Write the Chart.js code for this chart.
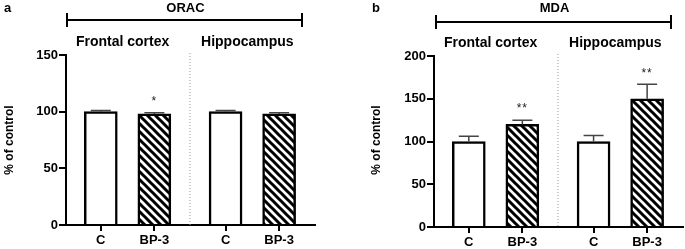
<!DOCTYPE html>
<html>
<head>
<meta charset="utf-8">
<script src="https://cdn.jsdelivr.net/npm/chart.js@4.4.1/dist/chart.umd.min.js"></script>
<style>
  body { margin: 0; background: #fff; }
  #wrap { position: relative; width: 685px; height: 249px; }
  canvas { position: absolute; top: 0; }
</style>
</head>
<body>
<div id="wrap">
  <canvas id="orac" width="340" height="249" style="left:0"></canvas>
  <canvas id="mda" width="345" height="249" style="left:340px"></canvas>
</div>
<script>
// data
const xLabels = ['C', 'BP-3', 'C', 'BP-3'];
const xPos = [1, 2, 3.33, 4.33];
const groups = ['Frontal cortex', 'Hippocampus'];

const oracMean = [100, 98, 100, 98];
const oracErr = [1, 1, 1, 1];
const oracStars = ['', '*', '', ''];

const mdaMean = [100, 120, 100, 150];
const mdaErr = [6, 5, 7, 17];
const mdaStars = ['', '**', '', '**'];

const FONT = "'Liberation Sans', Arial, sans-serif";

function makeHatch() {
  const s = 8;
  const c = document.createElement('canvas');
  c.width = s; c.height = s;
  const g = c.getContext('2d');
  g.fillStyle = '#fff';
  g.fillRect(0, 0, s, s);
  g.strokeStyle = '#000';
  g.lineWidth = 3;
  g.beginPath();
  g.moveTo(-s, -s); g.lineTo(2 * s, 2 * s);
  g.moveTo(-s, 0); g.lineTo(s, 2 * s);
  g.moveTo(0, -s); g.lineTo(2 * s, s);
  g.stroke();
  return g.createPattern(c, 'repeat');
}

function panel(id, o) {
  const ctx = document.getElementById(id).getContext('2d');
  const hatch = makeHatch();

  const extras = {
    id: 'extras',
    afterDatasetsDraw(chart) {
      const c = chart.ctx;
      const ys = chart.scales.y;
      const meta = chart.getDatasetMeta(0);
      c.save();
      c.strokeStyle = '#444';
      c.fillStyle = '#222';
      c.lineWidth = 1.5;
      meta.data.forEach((bar, i) => {
        const top = ys.getPixelForValue(o.mean[i] + o.err[i]);
        const y0 = ys.getPixelForValue(o.mean[i]);
        c.beginPath();
        c.moveTo(bar.x, y0);
        c.lineTo(bar.x, top);
        c.moveTo(bar.x - 10, top);
        c.lineTo(bar.x + 10, top);
        c.stroke();
        if (o.stars[i]) {
          c.font = '12px ' + FONT;
          c.letterSpacing = '1px';
          c.textAlign = 'center';
          c.textBaseline = 'middle';
          c.fillText(o.stars[i], bar.x, top - 11);
        }
      });
      c.restore();
    },
    afterDraw(chart) {
      const c = chart.ctx;
      const a = chart.chartArea;
      const xs = chart.scales.x;
      c.save();
      // divider between the two regions
      const xd = xs.getPixelForValue((xPos[1] + xPos[2]) / 2);
      c.strokeStyle = '#999';
      c.lineWidth = 1;
      c.setLineDash([1, 2]);
      c.beginPath();
      c.moveTo(xd, o.divTop);
      c.lineTo(xd, a.bottom);
      c.stroke();
      c.setLineDash([]);
      // panel letter
      c.fillStyle = '#000';
      c.font = 'bold 13px ' + FONT;
      c.textAlign = 'left';
      c.textBaseline = 'middle';
      c.fillText(o.letter, o.letterX, 8);
      // bracket and title
      c.strokeStyle = '#000';
      c.lineWidth = 2;
      c.beginPath();
      c.moveTo(o.br[0], o.brY); c.lineTo(o.br[1], o.brY);
      c.moveTo(o.br[0], o.brY - 7); c.lineTo(o.br[0], o.brY + 7);
      c.moveTo(o.br[1], o.brY - 7); c.lineTo(o.br[1], o.brY + 7);
      c.stroke();
      c.textAlign = 'center';
      c.font = 'bold 13px ' + FONT;
      c.fillText(o.title, (o.br[0] + o.br[1]) / 2 + 1, 8);
      // region headings
      c.font = 'bold 14px ' + FONT;
      groups.forEach((g, k) => {
        const xc = xs.getPixelForValue((xPos[2 * k] + xPos[2 * k + 1]) / 2) - 5;
        c.fillText(g, xc, o.headY);
      });
      // y axis title
      c.font = 'bold 12px ' + FONT;
      c.translate(o.yTitleX, 140);
      c.rotate(-Math.PI / 2);
      c.fillText('% of control', 0, 0);
      c.restore();
    }
  };

  return new Chart(ctx, {
    type: 'bar',
    data: {
      datasets: [{
        data: xPos.map((x, i) => ({ x: x, y: o.mean[i] })),
        backgroundColor: xPos.map((x, i) => i % 2 ? hatch : '#fff'),
        borderColor: '#000',
        borderWidth: 2.5,
        barThickness: 33
      }]
    },
    options: {
      responsive: false,
      animation: false,
      layout: { padding: { top: o.padTop, left: 0, right: o.padRight, bottom: 0 } },
      plugins: { legend: { display: false }, tooltip: { enabled: false } },
      scales: {
        x: {
          type: 'linear',
          offset: false,
          min: 0.35,
          max: 5.0,
          afterBuildTicks: s => { s.ticks = xPos.map(v => ({ value: v })); },
          afterFit: s => { s.height = o.xH; },
          ticks: {
            callback: (v, i) => xLabels[i],
            color: '#000',
            font: { family: FONT, size: 13, weight: 'bold' },
            padding: 2,
            maxRotation: 0,
            autoSkip: false
          },
          grid: { offset: false, drawOnChartArea: false, drawTicks: true, tickLength: 6, color: '#000', lineWidth: 2 },
          border: { display: true, color: '#000', width: 2 }
        },
        y: {
          min: 0,
          max: o.yMax,
          afterFit: s => { s.width = o.yW; },
          ticks: {
            stepSize: 50,
            color: '#000',
            font: { family: FONT, size: 13, weight: 'bold' },
            padding: 1
          },
          grid: { drawOnChartArea: false, drawTicks: true, tickLength: 7, color: '#000', lineWidth: 2 },
          border: { display: true, color: '#000', width: 2 }
        }
      }
    },
    plugins: [extras]
  });
}

panel('orac', {
  mean: oracMean, err: oracErr, stars: oracStars,
  yMax: 150, padTop: 55, padRight: 25, xH: 24, yW: 66,
  letter: 'a', letterX: 4, title: 'ORAC', br: [67, 302], brY: 20,
  headY: 42, divTop: 53, yTitleX: 10
});
panel('mda', {
  mean: mdaMean, err: mdaErr, stars: mdaStars,
  yMax: 200, padTop: 56, padRight: 2, xH: 22, yW: 94,
  letter: 'b', letterX: 32, title: 'MDA', br: [96, 331], brY: 22,
  headY: 43, divTop: 54, yTitleX: 37
});
</script>
</body>
</html>
